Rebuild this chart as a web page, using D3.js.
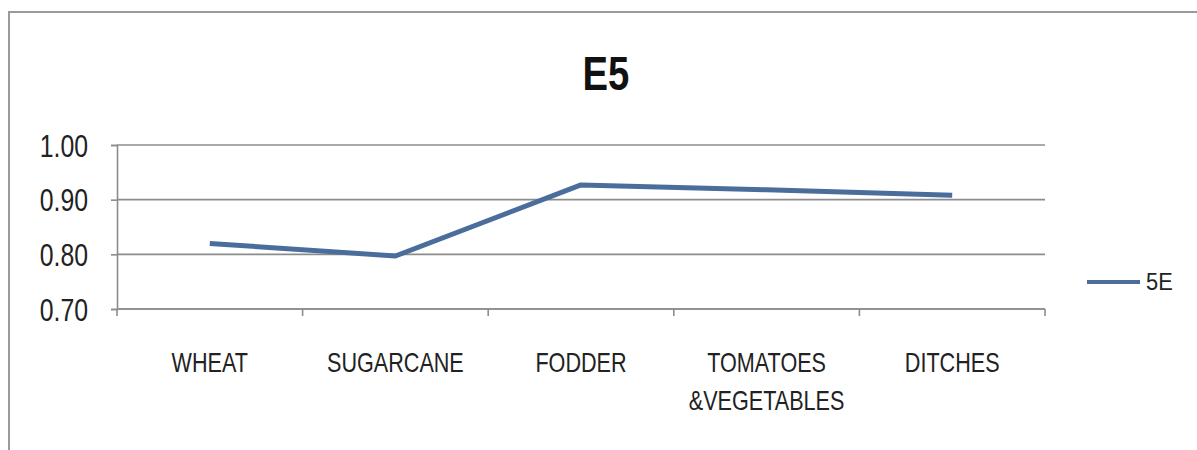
<!DOCTYPE html>
<html>
<head>
<meta charset="utf-8">
<script src="https://cdn.jsdelivr.net/npm/d3@7"></script>
<style>
  html, body { margin: 0; padding: 0; background: #fff; }
  svg { display: block; font-family: "Liberation Sans", Arial, sans-serif; }
</style>
</head>
<body>
<svg id="chart" width="1197" height="450"></svg>
<script>
// Crop categories (label lines) and the 5E series values
const categories = ["WHEAT", "SUGARCANE", "FODDER", "TOMATOES\n&VEGETABLES", "DITCHES"];
const seriesName = "5E";
const values = [0.82, 0.797, 0.927, 0.918, 0.908];
const yTicks = [0.70, 0.80, 0.90, 1.00];
const chartTitle = "E5";

const svg = d3.select("#chart");
const plot = { left: 117, right: 1045, top: 145, bottom: 309 };
const textScale = 0.8;

// Outer chart frame
svg.append("rect")
  .attr("x", 9).attr("y", 12)
  .attr("width", 1200).attr("height", 460)
  .attr("fill", "#fff").attr("stroke", "#9a9a9a").attr("stroke-width", 2);

const x = d3.scaleBand().domain(categories).range([plot.left, plot.right]).padding(0);
const y = d3.scaleLinear().domain([0.7, 1.0]).range([plot.bottom, plot.top]);

// Horizontal gridlines
svg.append("g")
  .selectAll("line")
  .data(yTicks)
  .join("line")
  .attr("x1", plot.left).attr("x2", plot.right)
  .attr("y1", d => y(d)).attr("y2", d => y(d))
  .attr("stroke", "#8c8c8c").attr("stroke-width", 1.6);

// Y axis
const yAxis = svg.append("g")
  .attr("transform", `translate(${plot.left},0)`)
  .call(d3.axisLeft(y).tickValues(yTicks).tickFormat(d3.format(".2f")).tickSize(6).tickPadding(0));
yAxis.select(".domain").attr("stroke", "#8c8c8c").attr("stroke-width", 1.6);
yAxis.selectAll(".tick line").attr("stroke", "#8c8c8c").attr("stroke-width", 1.6);
yAxis.selectAll(".tick text")
  .attr("x", 0).attr("dy", "0.36em")
  .attr("transform", `translate(-29,0) scale(${textScale},1)`)
  .attr("font-size", 31).attr("fill", "#222")
  .attr("font-family", "Liberation Sans, Arial, sans-serif");

// X axis with ticks at category boundaries
const xAxis = svg.append("g").attr("transform", `translate(0,${plot.bottom})`);
xAxis.append("line")
  .attr("x1", plot.left).attr("x2", plot.right)
  .attr("stroke", "#8c8c8c").attr("stroke-width", 1.6);
const boundaries = categories.map(c => x(c)).concat([x(categories[categories.length - 1]) + x.bandwidth()]);
xAxis.selectAll("line.tick")
  .data(boundaries)
  .join("line")
  .attr("class", "tick")
  .attr("x1", d => d).attr("x2", d => d)
  .attr("y1", 0).attr("y2", 7)
  .attr("stroke", "#8c8c8c").attr("stroke-width", 1.6);

// Category labels (multi-line where needed)
const catLabels = svg.append("g")
  .selectAll("text")
  .data(categories)
  .join("text")
  .attr("transform", d => `translate(${x(d) + x.bandwidth() / 2},372) scale(${textScale},1)`)
  .attr("text-anchor", "middle")
  .attr("font-size", 27)
  .attr("fill", "#222");
catLabels.each(function(d) {
  const lines = d.split("\n");
  d3.select(this).selectAll("tspan")
    .data(lines)
    .join("tspan")
    .attr("x", 0)
    .attr("y", (l, i) => i * 38)
    .text(l => l);
});

// Series line
const line = d3.line()
  .x((d, i) => x(categories[i]) + x.bandwidth() / 2)
  .y(d => y(d));
svg.append("path")
  .datum(values)
  .attr("d", line)
  .attr("fill", "none")
  .attr("stroke", "#4a6d9b")
  .attr("stroke-width", 5)
  .attr("stroke-linejoin", "round");

// Title
svg.append("text")
  .attr("transform", `translate(606,90) scale(0.78,1)`)
  .attr("text-anchor", "middle")
  .attr("font-size", 49)
  .attr("font-weight", "bold")
  .attr("fill", "#111")
  .text(chartTitle);

// Legend
const legend = svg.append("g").attr("transform", "translate(1087,282)");
legend.append("line")
  .attr("x1", 0).attr("x2", 53)
  .attr("stroke", "#4a6d9b").attr("stroke-width", 4);
legend.append("text")
  .attr("transform", `translate(59,8) scale(0.95,1)`)
  .attr("font-size", 23)
  .attr("fill", "#222")
  .text(seriesName);
</script>
</body>
</html>
